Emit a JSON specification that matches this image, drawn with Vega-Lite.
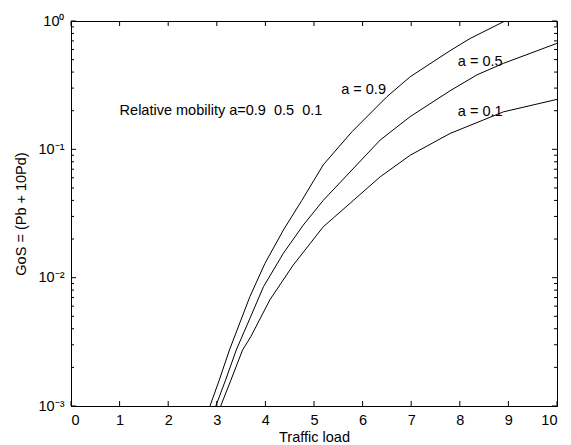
{
  "$schema": "https://vega.github.io/schema/vega-lite/v6.json",
  "width": 486,
  "height": 385,
  "autosize": "none",
  "padding": {"left": 71, "top": 21, "right": 14, "bottom": 39},
  "config": {
    "view": {"stroke": "black"},
    "axis": {"grid": false, "labelColor": "black", "titleColor": "black", "labelFont": "Liberation Sans", "titleFont": "Liberation Sans", "labelFontSize": 14.5, "titleFontSize": 14.5, "titleFontWeight": "normal", "domainColor": "black"}
  },
  "datasets": {
    "curves": [
      {"series": "a=0.9", "x": 2.86, "y": 0.001},
      {"series": "a=0.9", "x": 3.05, "y": 0.00159},
      {"series": "a=0.9", "x": 3.26, "y": 0.00273},
      {"series": "a=0.9", "x": 3.68, "y": 0.0071},
      {"series": "a=0.9", "x": 3.99, "y": 0.0129},
      {"series": "a=0.9", "x": 4.37, "y": 0.0235},
      {"series": "a=0.9", "x": 4.75, "y": 0.040},
      {"series": "a=0.9", "x": 5.19, "y": 0.0757},
      {"series": "a=0.9", "x": 5.78, "y": 0.137},
      {"series": "a=0.9", "x": 6.50, "y": 0.257},
      {"series": "a=0.9", "x": 6.98, "y": 0.368},
      {"series": "a=0.9", "x": 7.80, "y": 0.587},
      {"series": "a=0.9", "x": 8.21, "y": 0.73},
      {"series": "a=0.9", "x": 8.93, "y": 1.0},
      {"series": "a=0.5", "x": 2.98, "y": 0.001},
      {"series": "a=0.5", "x": 3.18, "y": 0.00159},
      {"series": "a=0.5", "x": 3.40, "y": 0.00273},
      {"series": "a=0.5", "x": 3.68, "y": 0.0048},
      {"series": "a=0.5", "x": 3.96, "y": 0.0085},
      {"series": "a=0.5", "x": 4.37, "y": 0.0155},
      {"series": "a=0.5", "x": 4.78, "y": 0.0257},
      {"series": "a=0.5", "x": 5.19, "y": 0.040},
      {"series": "a=0.5", "x": 5.78, "y": 0.069},
      {"series": "a=0.5", "x": 6.36, "y": 0.118},
      {"series": "a=0.5", "x": 6.98, "y": 0.18},
      {"series": "a=0.5", "x": 7.80, "y": 0.286},
      {"series": "a=0.5", "x": 8.35, "y": 0.38},
      {"series": "a=0.5", "x": 8.90, "y": 0.468},
      {"series": "a=0.5", "x": 10.0, "y": 0.67},
      {"series": "a=0.1", "x": 3.08, "y": 0.001},
      {"series": "a=0.1", "x": 3.29, "y": 0.00159},
      {"series": "a=0.1", "x": 3.53, "y": 0.00273},
      {"series": "a=0.1", "x": 3.70, "y": 0.00347},
      {"series": "a=0.1", "x": 4.09, "y": 0.0067},
      {"series": "a=0.1", "x": 4.57, "y": 0.0125},
      {"series": "a=0.1", "x": 5.19, "y": 0.0249},
      {"series": "a=0.1", "x": 5.81, "y": 0.040},
      {"series": "a=0.1", "x": 6.36, "y": 0.061},
      {"series": "a=0.1", "x": 6.98, "y": 0.090},
      {"series": "a=0.1", "x": 7.80, "y": 0.133},
      {"series": "a=0.1", "x": 8.90, "y": 0.196},
      {"series": "a=0.1", "x": 10.0, "y": 0.245}
    ],
    "labels": [
      {"x": 1.0, "y": 0.2, "text": "Relative mobility a=0.9\u00a0\u00a00.5\u00a0\u00a00.1"},
      {"x": 5.56, "y": 0.29, "text": "a = 0.9"},
      {"x": 7.96, "y": 0.48, "text": "a = 0.5"},
      {"x": 7.96, "y": 0.196, "text": "a = 0.1"}
    ],
    "xticks": [{"v": 0}, {"v": 1}, {"v": 2}, {"v": 3}, {"v": 4}, {"v": 5}, {"v": 6}, {"v": 7}, {"v": 8}, {"v": 9}, {"v": 10}],
    "ymajor": [{"v": 0.001}, {"v": 0.01}, {"v": 0.1}, {"v": 1}],
    "yminor": [{"v": 0.002}, {"v": 0.003}, {"v": 0.004}, {"v": 0.005}, {"v": 0.006}, {"v": 0.007}, {"v": 0.008}, {"v": 0.009},
               {"v": 0.02}, {"v": 0.03}, {"v": 0.04}, {"v": 0.05}, {"v": 0.06}, {"v": 0.07}, {"v": 0.08}, {"v": 0.09},
               {"v": 0.2}, {"v": 0.3}, {"v": 0.4}, {"v": 0.5}, {"v": 0.6}, {"v": 0.7}, {"v": 0.8}, {"v": 0.9}]
  },
  "resolve": {"axis": {"x": "independent", "y": "independent"}},
  "layer": [
    {
      "data": {"name": "curves"},
      "mark": {"type": "line", "color": "black", "strokeWidth": 1, "clip": true},
      "encoding": {
        "x": {"field": "x", "type": "quantitative", "scale": {"domain": [0, 10], "nice": false, "zero": false},
              "axis": {"orient": "bottom", "title": "Traffic load", "values": [0,1,2,3,4,5,6,7,8,9,10], "ticks": false, "tickSize": 0, "labelPadding": 7, "titlePadding": 4}},
        "y": {"field": "y", "type": "quantitative", "scale": {"type": "log", "domain": [0.001, 1], "nice": false},
              "axis": {"orient": "left", "title": "GoS = (Pb + 10Pd)", "values": [0.001, 0.01, 0.1, 1], "ticks": false, "tickSize": 0, "labelPadding": 7, "titlePadding": 10,
                       "labelExpr": "datum.value >= 0.99 ? '10⁰' : datum.value >= 0.099 ? '10⁻¹' : datum.value >= 0.0099 ? '10⁻²' : '10⁻³'"}},
        "detail": {"field": "series"}
      }
    },
    {
      "data": {"name": "xticks"},
      "mark": {"type": "rule", "color": "black", "strokeWidth": 1, "y2Offset": -5},
      "encoding": {
        "x": {"field": "v", "type": "quantitative", "axis": null},
        "y": {"datum": 0.001, "type": "quantitative", "axis": null},
        "y2": {"datum": 0.001}
      }
    },
    {
      "data": {"name": "xticks"},
      "mark": {"type": "rule", "color": "black", "strokeWidth": 1, "y2Offset": 5},
      "encoding": {
        "x": {"field": "v", "type": "quantitative", "axis": null},
        "y": {"datum": 1, "type": "quantitative", "axis": null},
        "y2": {"datum": 1}
      }
    },
    {
      "data": {"name": "ymajor"},
      "mark": {"type": "rule", "color": "black", "strokeWidth": 1, "x2Offset": 5},
      "encoding": {
        "y": {"field": "v", "type": "quantitative", "axis": null},
        "x": {"datum": 0, "type": "quantitative", "axis": null},
        "x2": {"datum": 0}
      }
    },
    {
      "data": {"name": "ymajor"},
      "mark": {"type": "rule", "color": "black", "strokeWidth": 1, "x2Offset": -5},
      "encoding": {
        "y": {"field": "v", "type": "quantitative", "axis": null},
        "x": {"datum": 10, "type": "quantitative", "axis": null},
        "x2": {"datum": 10}
      }
    },
    {
      "data": {"name": "yminor"},
      "mark": {"type": "rule", "color": "black", "strokeWidth": 1, "x2Offset": 3},
      "encoding": {
        "y": {"field": "v", "type": "quantitative", "axis": null},
        "x": {"datum": 0, "type": "quantitative", "axis": null},
        "x2": {"datum": 0}
      }
    },
    {
      "data": {"name": "yminor"},
      "mark": {"type": "rule", "color": "black", "strokeWidth": 1, "x2Offset": -3},
      "encoding": {
        "y": {"field": "v", "type": "quantitative", "axis": null},
        "x": {"datum": 10, "type": "quantitative", "axis": null},
        "x2": {"datum": 10}
      }
    },
    {
      "data": {"name": "labels"},
      "mark": {"type": "text", "align": "left", "baseline": "middle", "fontSize": 14.5, "font": "Liberation Sans", "color": "black"},
      "encoding": {
        "x": {"field": "x", "type": "quantitative", "axis": null},
        "y": {"field": "y", "type": "quantitative", "axis": null},
        "text": {"field": "text"}
      }
    }
  ]
}
